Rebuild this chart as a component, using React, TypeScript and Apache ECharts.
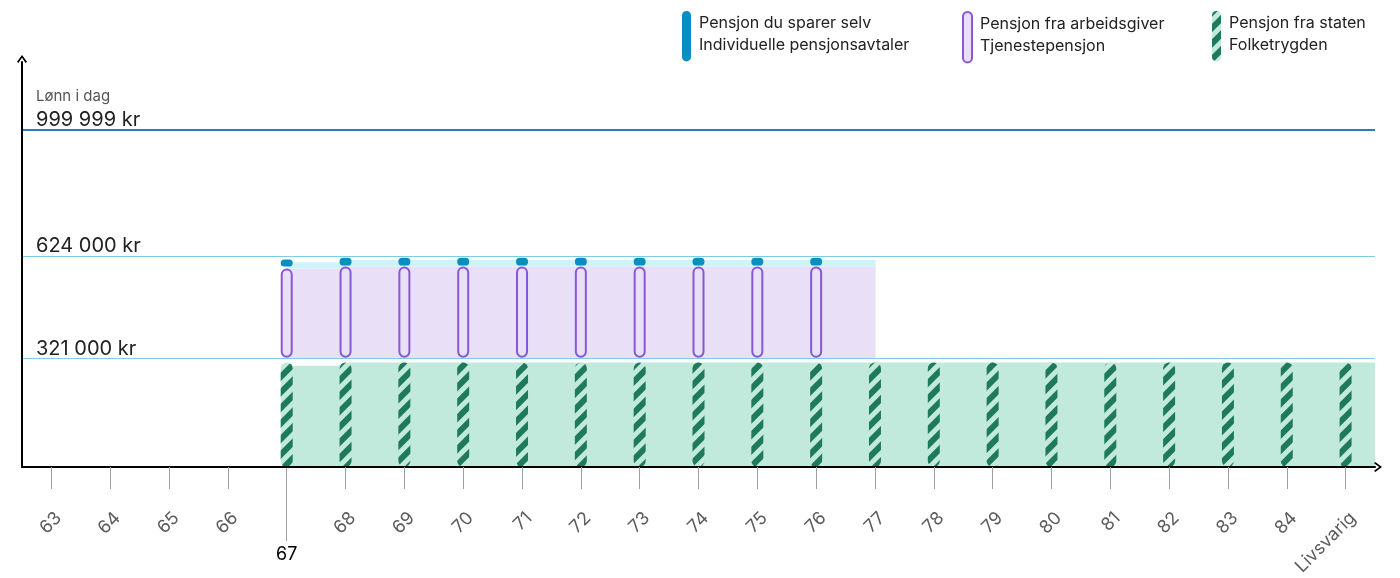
import React, { useEffect, useRef } from "react";
import * as echarts from "echarts";

const ages = ["63", "64", "65", "66", "67", "68", "69", "70", "71", "72", "73", "74", "75", "76", "77", "78", "79", "80", "81", "82", "83", "84", "Livsvarig"];

// background step fills (value at each age, held until next age)
const folketrygdFill = [null, null, null, null, 300000, 310000, 310000, 310000, 310000, 310000, 310000, 310000, 310000, 310000, 310000, 310000, 310000, 310000, 310000, 310000, 310000, 310000, 310000];
const tjenesteFillBase = 322000;
const tjenesteFillTop = [null, null, null, null, 588000, 594000, 594000, 594000, 594000, 594000, 594000, 594000, 594000, 594000, null, null, null, null, null, null, null, null, null];
const individFillTop = [null, null, null, null, 607000, 614000, 614000, 614000, 614000, 614000, 614000, 614000, 614000, 614000, null, null, null, null, null, null, null, null, null];

// pill markers (stacked)
const folketrygdPill = [null, null, null, null, 310000, 310000, 310000, 310000, 310000, 310000, 310000, 310000, 310000, 310000, 310000, 310000, 310000, 310000, 310000, 310000, 310000, 310000, 310000];
const gapA = [null, null, null, null, 14000, 14000, 14000, 14000, 14000, 14000, 14000, 14000, 14000, 14000, null, null, null, null, null, null, null, null, null];
const tjenestePill = [null, null, null, null, 264000, 270000, 270000, 270000, 270000, 270000, 270000, 270000, 270000, 270000, null, null, null, null, null, null, null, null, null];
const gapB = [null, null, null, null, 6000, 3000, 3000, 3000, 3000, 3000, 3000, 3000, 3000, 3000, null, null, null, null, null, null, null, null, null];
const individPill = [null, null, null, null, 21000, 23000, 23000, 23000, 23000, 23000, 23000, 23000, 23000, 23000, null, null, null, null, null, null, null, null, null];

const refValues = [999999, 624000, 321000];
const refLabels = ["999 999 kr", "624 000 kr", "321 000 kr"];
const refCaption = "Lønn i dag";

const seriesNames = ["Pensjon du sparer selv", "Pensjon fra arbeidsgiver", "Pensjon fra staten"];
const seriesSubNames = ["Individuelle pensjonsavtaler", "Tjenestepensjon", "Folketrygden"];

const FONT = "Inter, 'Noto Sans', sans-serif";
const pill = "path://M0,5 A5,5 0 0 1 10,5 L10,51 A5,5 0 0 1 0,51 Z";
const chevron = "path://M0,8 L6,0 L12,8 L10.4,9.6 L6,3.4 L1.6,9.6 Z";

const C = {
  greenFill: "#c1eadc",
  greenDark: "#1e7a5a",
  purpleFill: "#e9e0f8",
  purpleLine: "#8757d6",
  cyanFill: "#d0f3fa",
  blue: "#0a8ec0",
};

function fillSeries(name: string, base: number | number[], tops: (number | null)[], color: string) {
  const data: number[][] = [];
  tops.forEach((t, i) => {
    if (t == null) return;
    const b = Array.isArray(base) ? base[i] : base;
    data.push([i, b as number, t]);
  });
  return {
    type: "custom",
    name,
    z: 1,
    silent: true,
    encode: { x: 0, y: [1, 2] },
    data,
    renderItem: (params: any, api: any) => {
      const i = api.value(0);
      const lo = api.coord([i, api.value(1)]);
      const hi = api.coord([i, api.value(2)]);
      const w = api.size([1, 0])[0];
      const cs = params.coordSys;
      const shape = echarts.graphic.clipRectByRect(
        { x: lo[0], y: hi[1], width: w + 0.6, height: lo[1] - hi[1] },
        { x: cs.x, y: cs.y, width: cs.width, height: cs.height }
      );
      if (!shape) return null;
      return { type: "rect", shape, style: { fill: color } };
    },
  };
}

export default function App() {
  const ref = useRef<HTMLDivElement>(null);
  useEffect(() => {
    const chart = echarts.init(ref.current!, null, { renderer: "svg" });
    const greenBase = folketrygdFill.map(() => 0);
    const legendCommon = {
      top: 6,
      orient: "horizontal",
      itemWidth: 9,
      itemHeight: 56,
      selectedMode: false,
      formatter: (n: string) => "{t|" + n + "}\n{t|" + seriesSubNames[seriesNames.indexOf(n)] + "}\n{s| }",
      textStyle: {
        fontFamily: FONT,
        fontSize: 16,
        color: "#222",
        padding: [0, 0, 0, 3],
        rich: { t: { fontFamily: FONT, fontSize: 16, lineHeight: 22, color: "#222" }, s: { fontSize: 4, lineHeight: 6 } },
      },
    };
    chart.setOption({
      animation: false,
      textStyle: { fontFamily: FONT },
      legend: [
        { ...legendCommon, left: 677, data: [{ name: seriesNames[0], icon: pill }] },
        { ...legendCommon, left: 957, data: [{ name: seriesNames[1], icon: pill }] },
        { ...legendCommon, left: 1207, data: [{ name: seriesNames[2], icon: pill }] },
      ],
      grid: { left: 22, right: 25, top: 62, bottom: 111, containLabel: false },
      xAxis: [
        {
          type: "category",
          data: ages,
          boundaryGap: true,
          axisLine: { show: true, symbol: ["none", chevron], symbolSize: [12, 8], symbolOffset: [0, 3], lineStyle: { color: "#000", width: 2 } },
          axisTick: { show: true, alignWithLabel: true, length: 22, interval: (i: number) => i !== 4, lineStyle: { color: "#a0a0a0", width: 1 } },
          axisLabel: {
            interval: (i: number) => i !== 4,
            rotate: 45,
            verticalAlign: "top",
            margin: 41,
            color: "#5c5c5c",
            fontSize: 18,
            fontFamily: FONT,
          },
          splitLine: { show: false },
          z: 5,
        },
        {
          type: "category",
          data: ages,
          position: "bottom",
          boundaryGap: true,
          axisLine: { show: false },
          axisTick: { show: true, alignWithLabel: true, length: 74, interval: (i: number) => i === 4, lineStyle: { color: "#a0a0a0", width: 1 } },
          axisLabel: { interval: (i: number) => i === 4, margin: 77, color: "#000", fontSize: 18, fontFamily: FONT },
          splitLine: { show: false },
        },
      ],
      yAxis: {
        type: "value",
        min: 0,
        max: 1200000,
        axisLine: { show: true, symbol: ["none", chevron], symbolSize: [12, 8], symbolOffset: [0, 3], lineStyle: { color: "#000", width: 2 } },
        axisTick: { show: false },
        axisLabel: { show: false },
        splitLine: { show: false },
        z: 5,
      },
      series: [
        fillSeries("fillGreen", greenBase, folketrygdFill, C.greenFill),
        fillSeries("fillPurple", tjenesteFillBase, tjenesteFillTop, C.purpleFill),
        fillSeries("fillCyan", tjenesteFillTop as number[], individFillTop, C.cyanFill),
        {
          type: "line",
          name: "refs",
          data: [],
          z: 2,
          silent: true,
          markLine: {
            silent: true,
            symbol: ["none", "none"],
            data: refValues.map((v, k) => ({
              yAxis: v,
              lineStyle: { color: k === 0 ? "#2a7bbf" : "#7ccde3", width: k === 0 ? 2 : 1.2, type: "solid" },
              label: {
                show: true,
                position: "insideStartTop",
                distance: [14, 0],
                formatter: k === 0 ? "{a|" + refCaption + "}\n{b|" + refLabels[k] + "}" : "{b|" + refLabels[k] + "}",
                rich: {
                  a: { fontSize: 15, color: "#555", fontFamily: FONT, lineHeight: 25 },
                  b: { fontSize: 20, color: "#222", fontFamily: FONT, lineHeight: 22 },
                },
              },
            })),
          },
        },
        {
          type: "bar",
          name: seriesNames[2],
          stack: "p",
          barWidth: 12,
          z: 3,
          data: folketrygdPill,
          itemStyle: {
            color: C.greenFill,
            borderRadius: 6,
            decal: {
              symbol: "rect",
              symbolSize: 1,
              color: C.greenDark,
              dashArrayX: [1, 0],
              dashArrayY: [6, 5],
              rotation: -Math.PI / 4,
            },
          },
        },
        { type: "bar", name: "gapA", stack: "p", barWidth: 12, z: 3, data: gapA, itemStyle: { color: "rgba(0,0,0,0)" }, silent: true },
        {
          type: "bar",
          name: seriesNames[1],
          stack: "p",
          barWidth: 12,
          z: 3,
          data: tjenestePill,
          itemStyle: { color: C.purpleFill, borderColor: C.purpleLine, borderWidth: 2, borderRadius: 6 },
        },
        { type: "bar", name: "gapB", stack: "p", barWidth: 12, z: 3, data: gapB, itemStyle: { color: "rgba(0,0,0,0)" }, silent: true },
        {
          type: "bar",
          name: seriesNames[0],
          stack: "p",
          barWidth: 13,
          z: 3,
          data: individPill,
          itemStyle: { color: C.blue, borderRadius: 5 },
        },
      ],
    });
    return () => chart.dispose();
  }, []);
  return <div ref={ref} style={{ position: "fixed", left: 0, top: 0, width: 1400, height: 578 }} />;
}
